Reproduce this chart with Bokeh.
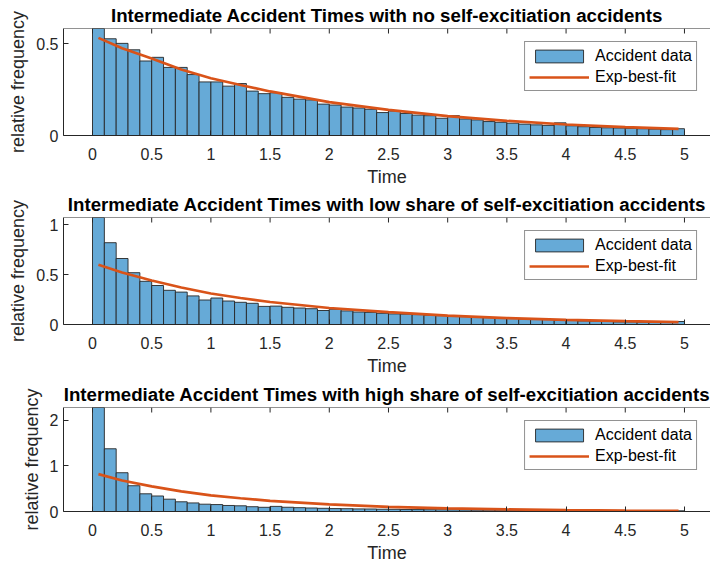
import numpy as np
from bokeh.plotting import figure
from bokeh.layouts import column
from bokeh.models import (FixedTicker, Range1d, Legend, LegendItem, Span,
                          NumeralTickFormatter)
from bokeh.embed import file_html
from bokeh.resources import INLINE

# ---------------- data ----------------
bin_width = 0.1
bin_left = [round(i * bin_width, 1) for i in range(50)]

titles = [
    "Intermediate Accident Times with no self-excitiation accidents",
    "Intermediate Accident Times with low share of self-excitiation accidents",
    "Intermediate Accident Times with high share of self-excitiation accidents",
]

freq_none = [0.583, 0.527, 0.502, 0.467, 0.406, 0.426, 0.371, 0.371, 0.332, 0.292,
             0.292, 0.269, 0.283, 0.242, 0.228, 0.233, 0.208, 0.198, 0.194, 0.171,
             0.166, 0.155, 0.150, 0.143, 0.125, 0.134, 0.120, 0.111, 0.108, 0.094,
             0.108, 0.090, 0.085, 0.076, 0.072, 0.067, 0.062, 0.058, 0.055, 0.069,
             0.053, 0.048, 0.044, 0.042, 0.041, 0.039, 0.037, 0.035, 0.032, 0.037]

freq_low = [1.070, 0.818, 0.660, 0.518, 0.432, 0.390, 0.342, 0.324, 0.286, 0.245,
            0.265, 0.235, 0.222, 0.212, 0.181, 0.184, 0.172, 0.165, 0.158, 0.140,
            0.153, 0.136, 0.125, 0.121, 0.112, 0.106, 0.103, 0.099, 0.093, 0.089,
            0.086, 0.079, 0.076, 0.069, 0.063, 0.060, 0.056, 0.053, 0.050, 0.043,
            0.040, 0.036, 0.033, 0.030, 0.026, 0.026, 0.023, 0.020, 0.020, 0.030]

freq_high = [2.280, 1.375, 0.850, 0.565, 0.388, 0.340, 0.270, 0.213, 0.188, 0.160,
             0.152, 0.132, 0.125, 0.105, 0.092, 0.112, 0.093, 0.084, 0.077, 0.070,
             0.064, 0.062, 0.057, 0.055, 0.050, 0.048, 0.043, 0.042, 0.040, 0.038,
             0.036, 0.034, 0.032, 0.030, 0.029, 0.027, 0.026, 0.024, 0.023, 0.022,
             0.021, 0.020, 0.019, 0.018, 0.017, 0.016, 0.015, 0.014, 0.013, 0.015]

fit_x = [0.05, 0.25, 0.5, 0.75, 1.0, 1.25, 1.5, 2.0, 2.5, 3.0, 3.5, 4.0, 4.5, 4.95]
fit_none = [0.532, 0.475, 0.420, 0.360, 0.312, 0.275, 0.240, 0.182, 0.140, 0.106,
            0.080, 0.060, 0.046, 0.036]
fit_low = [0.598, 0.520, 0.440, 0.370, 0.310, 0.265, 0.225, 0.165, 0.124, 0.088,
           0.064, 0.046, 0.033, 0.024]
fit_high = [0.820, 0.680, 0.550, 0.440, 0.355, 0.290, 0.235, 0.155, 0.103, 0.068,
            0.045, 0.030, 0.020, 0.014]

x_ticks = [0, 0.5, 1, 1.5, 2, 2.5, 3, 3.5, 4, 4.5, 5]
y_ticks = [[0, 0.5], [0, 0.5, 1], [0, 1, 2]]
y_tops = [0.583, 1.07, 2.28]

legend_labels = ["Accident data", "Exp-best-fit"]

# ---------------- style ----------------
FONT = "Liberation Sans"
AXC = "#262626"
BAR_FILL = "#66AAD7"
FIT_COL = "#D95319"


def make_panel(title, freq, fit_y, yt, ytop, height, bottom_border):
    p = figure(width=710, height=height, output_backend="svg", toolbar_location=None,
               x_range=Range1d(-0.245, 5.22), y_range=Range1d(0, ytop),
               min_border_left=63, min_border_right=0, min_border_top=0,
               min_border_bottom=bottom_border, title=title,
               x_axis_label="Time", y_axis_label="relative frequency")
    p.outline_line_color = None
    p.grid.visible = False
    p.title.text_font = FONT
    p.title.text_font_size = "18.7px"
    p.title.text_font_style = "bold"
    p.title.text_color = "#000000"
    p.title.align = "center"
    p.title.standoff = 5

    left = bin_left
    right = [b + bin_width for b in bin_left]
    bars = p.quad(left=left, right=right, bottom=0, top=freq,
                  fill_color=BAR_FILL, line_color=AXC, line_width=0.9)
    fit = p.line(fit_x, fit_y, line_color=FIT_COL, line_width=2.7)

    # box top edge with inward ticks (MATLAB "box on")
    p.add_layout(Span(location=ytop, dimension="width", line_color=AXC, line_width=1))
    p.ray(x=x_ticks, y=ytop, length=5, length_units="screen", angle=-90,
          angle_units="deg", line_color=AXC, line_width=1)

    p.xaxis.ticker = FixedTicker(ticks=x_ticks)
    p.yaxis.ticker = FixedTicker(ticks=yt)
    p.xaxis.formatter = NumeralTickFormatter(format="0.[0]")
    p.yaxis.formatter = NumeralTickFormatter(format="0.[0]")
    for ax in (p.xaxis[0], p.yaxis[0]):
        ax.major_tick_in = 5
        ax.major_tick_out = 0
        ax.minor_tick_line_color = None
        ax.axis_line_color = AXC
        ax.major_tick_line_color = AXC
        ax.major_label_text_color = AXC
        ax.major_label_text_font = FONT
        ax.major_label_text_font_size = "16px"
        ax.axis_label_text_font = FONT
        ax.axis_label_text_font_size = "18px"
        ax.axis_label_text_font_style = "normal"
        ax.axis_label_text_color = AXC
    p.xaxis.major_label_standoff = 12
    p.xaxis.axis_label_standoff = 4
    p.yaxis.major_label_standoff = 5
    p.yaxis.axis_label_standoff = 5

    legend = Legend(items=[LegendItem(label=legend_labels[0], renderers=[bars]),
                           LegendItem(label=legend_labels[1], renderers=[fit])],
                    location="top_right", margin=13)
    legend.label_text_font = FONT
    legend.label_text_font_size = "16px"
    legend.label_text_color = "#000000"
    legend.glyph_width = 60
    legend.glyph_height = 16
    legend.label_standoff = 6
    legend.label_height = 19
    legend.spacing = 2
    legend.padding = 4
    legend.border_line_color = AXC
    legend.border_line_width = 1
    legend.background_fill_color = "white"
    legend.background_fill_alpha = 1
    p.add_layout(legend)
    return p


p1 = make_panel(titles[0], freq_none, fit_none, y_ticks[0], y_tops[0], 189, 53)
p2 = make_panel(titles[1], freq_low, fit_low, y_ticks[1], y_tops[1], 190, 55)
p3 = make_panel(titles[2], freq_high, fit_high, y_ticks[2], y_tops[2], 186, 52)

layout = column(p1, p2, p3)
open("out.html", "w").write(file_html(layout, INLINE))
